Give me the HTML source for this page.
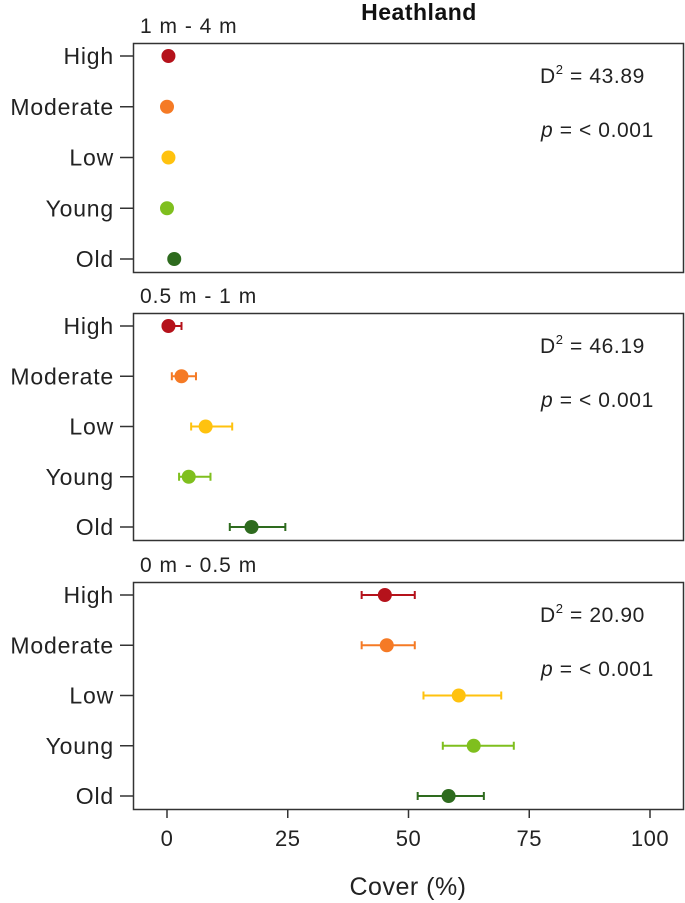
<!DOCTYPE html>
<html><head><meta charset="utf-8"><style>
body{margin:0;background:#fff;}
svg{display:block;font-family:"Liberation Sans",Arial,sans-serif;}
</style></head><body>
<svg id="chart" width="685" height="903">
<text x="419" y="20" text-anchor="middle" font-size="23" font-weight="bold" fill="#111" letter-spacing="0.5">Heathland</text>
<g id="panels"></g>
<g id="xaxis"></g>
<text x="408" y="895" text-anchor="middle" font-size="25" fill="#222" letter-spacing="0.5">Cover (%)</text>
</svg>
<script>
const categories = ["High","Moderate","Low","Young","Old"];
const colors = ["#b5121b","#f57a25","#ffc20e","#7fbf1e","#2e6b1e"];
const panelTitles = ["1 m - 4 m","0.5 m - 1 m","0 m - 0.5 m"];
const d2Labels = ["43.89","46.19","20.90"];
const p1Mean = [0.3,0,0.3,0,1.5];
const p1Lo = [0.3,0,0.3,0,1.5];
const p1Hi = [0.3,0,0.3,0,1.5];
const p2Mean = [0.3,3,8,4.5,17.5];
const p2Lo = [-0.5,1,5,2.5,13];
const p2Hi = [3,6,13.5,9,24.5];
const p3Mean = [45.1,45.5,60.4,63.5,58.3];
const p3Lo = [40.3,40.3,53.1,57.1,51.9];
const p3Hi = [51.3,51.3,69.2,71.8,65.6];
const xTicks = [0,25,50,75,100];

const means=[p1Mean,p2Mean,p3Mean], los=[p1Lo,p2Lo,p3Lo], his=[p1Hi,p2Hi,p3Hi];
const tops=[43,313,582], bottoms=[272,540,809];
const NS="http://www.w3.org/2000/svg";
function x(v){return 167+4.83*v;}
function mk(tag,attrs,parent,text){const e=document.createElementNS(NS,tag);for(const k in attrs)e.setAttribute(k,attrs[k]);if(text!==undefined)e.textContent=text;parent.appendChild(e);return e;}
const G=document.getElementById('panels');
for(let p=0;p<3;p++){
  const top=tops[p],bot=bottoms[p];
  const y=i=>top+13+i*(bot-top-26)/4;
  const g=mk('g',{},G);
  
  
  const t=mk('text',{x:140,y:top-10,'font-size':21,fill:'#222','letter-spacing':1},g,panelTitles[p]);
  
  
  const r=mk('rect',{x:133.5,y:top+0.5,width:550,height:bot-top,fill:'none',stroke:'#333','stroke-width':1.5},g);
  
  
  const d=mk('text',{x:540,y:top+40,'font-size':21,fill:'#222','letter-spacing':0.6},g);
  
  
  d.innerHTML='D<tspan dy="-9" font-size="13">2</tspan><tspan dy="9"> = '+d2Labels[p]+'</tspan>';
  const pt=mk('text',{x:541,y:top+94,'font-size':21,fill:'#222','letter-spacing':0.6},g);
  
  
  pt.innerHTML='<tspan font-style="italic">p</tspan> = &lt; 0.001';
  for(let i=0;i<5;i++){
    const yy=y(i);
    mk('line',{x1:120,x2:133,y1:yy,y2:yy,stroke:'#333','stroke-width':1.5},g);
    const lb=mk('text',{x:114,y:yy+8,'text-anchor':'end','font-size':23,fill:'#222','letter-spacing':0.8},g,categories[i]);
    
    
    const lo=x(los[p][i]),hi=x(his[p][i]);
    if(hi-lo>1){
      const e=mk('path',{d:`M${lo},${yy-4}V${yy+4}M${lo},${yy}H${hi}M${hi},${yy-4}V${yy+4}`,stroke:colors[i],'stroke-width':2,fill:'none'},g);
      
      
    }
    const c=mk('circle',{cx:x(means[p][i]),cy:yy,r:7,fill:colors[i]},g);
    
    
  }
}
const X=document.getElementById('xaxis');
for(const v of xTicks){
  mk('line',{x1:x(v),x2:x(v),y1:809,y2:818,stroke:'#333','stroke-width':1.5},X);
  const tl=mk('text',{x:x(v),y:846,'text-anchor':'middle','font-size':22,fill:'#222','letter-spacing':0.5},X,String(v));
  
  
}
</script>
</body></html>
